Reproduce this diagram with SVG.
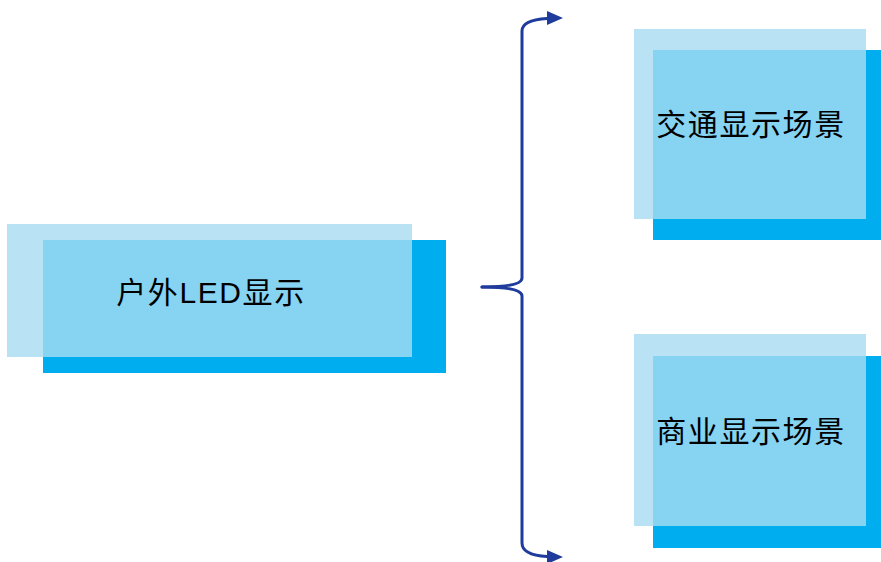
<svg xmlns="http://www.w3.org/2000/svg" width="881" height="562" viewBox="0 0 881 562">
<style>
.back{fill:#00ADEE}
.front{fill:#A8DCF2;fill-opacity:0.8}
.lbl{font-family:"Liberation Sans","Noto Sans CJK SC",sans-serif;font-size:30px;fill:#000;text-anchor:middle;letter-spacing:1.6px}
.conn{fill:none;stroke:#1F3C9C;stroke-width:3;stroke-linecap:round;stroke-linejoin:round}
.head{fill:#1F3C9C}
</style>
<rect width="881" height="562" fill="#fff"/>
<g id="node-outdoor">
<rect class="back" x="43" y="240" width="403" height="133"/>
<rect class="front" x="7" y="224" width="405" height="133"/>
<text class="lbl" x="211" y="303">户外LED显示</text>
</g>
<g id="node-traffic">
<rect class="back" x="653" y="50" width="228" height="190"/>
<rect class="front" x="634" y="29" width="232" height="190"/>
<text class="lbl" x="751" y="135">交通显示场景</text>
</g>
<g id="node-commercial">
<rect class="back" x="653" y="356" width="228" height="192"/>
<rect class="front" x="634" y="334" width="232" height="192"/>
<text class="lbl" x="751" y="442">商业显示场景</text>
</g>
<g id="connectors">
<path class="conn" d="M482 287 Q522 287 522 278 L522 31 Q522 20 547 18.5"/>
<path class="conn" d="M482 287 Q522 287 522 296 L522 543 Q522 555 547 556.5"/>
<polygon class="head" points="547,11 563,18 547,25"/>
<polygon class="head" points="547,550 563,557 547,564"/>
</g>
</svg>
